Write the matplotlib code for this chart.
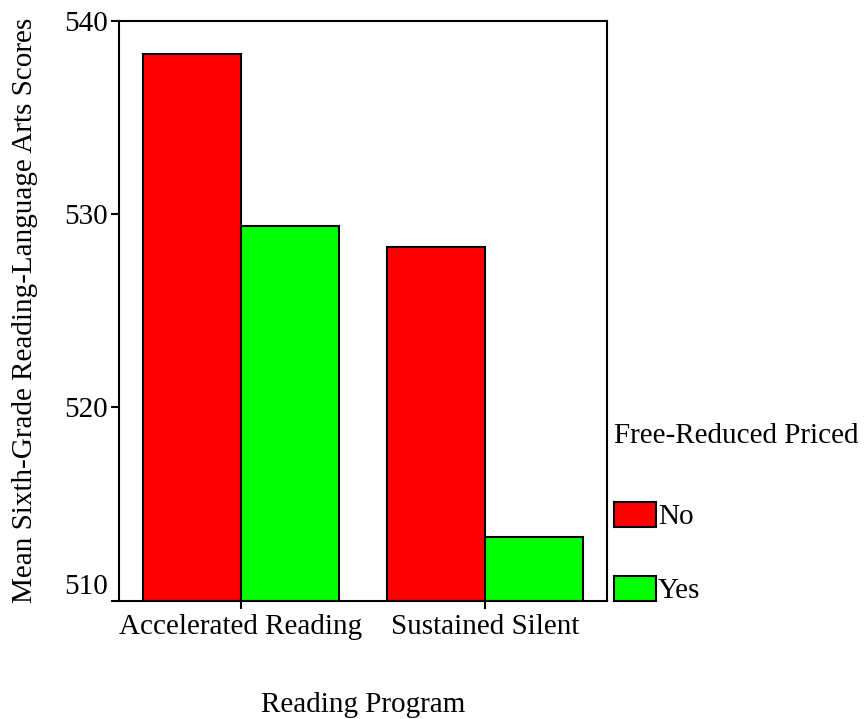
import matplotlib

matplotlib.use("Agg")

import matplotlib.pyplot as plt
import numpy as np

programs = ["Accelerated Reading", "Sustained Silent"]
groups = ["No", "Yes"]
scores_no = [538.3, 528.3]
scores_yes = [529.4, 513.3]
colors = ["#ff0000", "#00ff00"]

plt.rcParams["font.family"] = ["Liberation Serif", "DejaVu Serif"]
plt.rcParams["font.size"] = 21

fig = plt.figure(figsize=(8.64, 7.19), dpi=100)
ax = fig.add_axes([119 / 864, 1 - 600.5 / 719, (607 - 119) / 864, (600.5 - 21) / 719])

x = np.arange(len(programs))
width = 0.4
base = 510
for i, (vals, grp) in enumerate([(scores_no, groups[0]), (scores_yes, groups[1])]):
    ax.bar(x - width / 2 + i * width, np.array(vals) - base, width, bottom=base,
           color=colors[i], edgecolor="black", linewidth=1.5, label=grp)

ax.set_xlim(-0.5, 1.5)
ax.set_ylim(510, 540)
ax.set_yticks([510, 520, 530, 540])
ax.set_xticks(x)
ax.set_xticklabels(programs)
for s in ax.spines.values():
    s.set_linewidth(1.5)
ax.tick_params(axis="y", length=6, width=1.5, pad=2)
ax.tick_params(axis="x", length=6, width=1.5, pad=4)
ylabs = ax.get_yticklabels()
ylabs[0].set_verticalalignment("bottom")

ax.set_ylabel("Mean Sixth-Grade Reading-Language Arts Scores", labelpad=19)
ax.set_xlabel("Reading Program", labelpad=37)

leg = ax.legend(title="Free-Reduced Priced", loc="upper left",
                bbox_to_anchor=(614 / 864, 1 - 423 / 719), bbox_transform=fig.transFigure,
                frameon=False, handlelength=1.45, handleheight=0.95, handletextpad=0.05,
                labelspacing=1.56, alignment="left", borderaxespad=0, borderpad=0)
leg.get_title().set_fontsize(21)
leg._legend_box.sep = 38

fig.savefig("out.png", dpi=100)
